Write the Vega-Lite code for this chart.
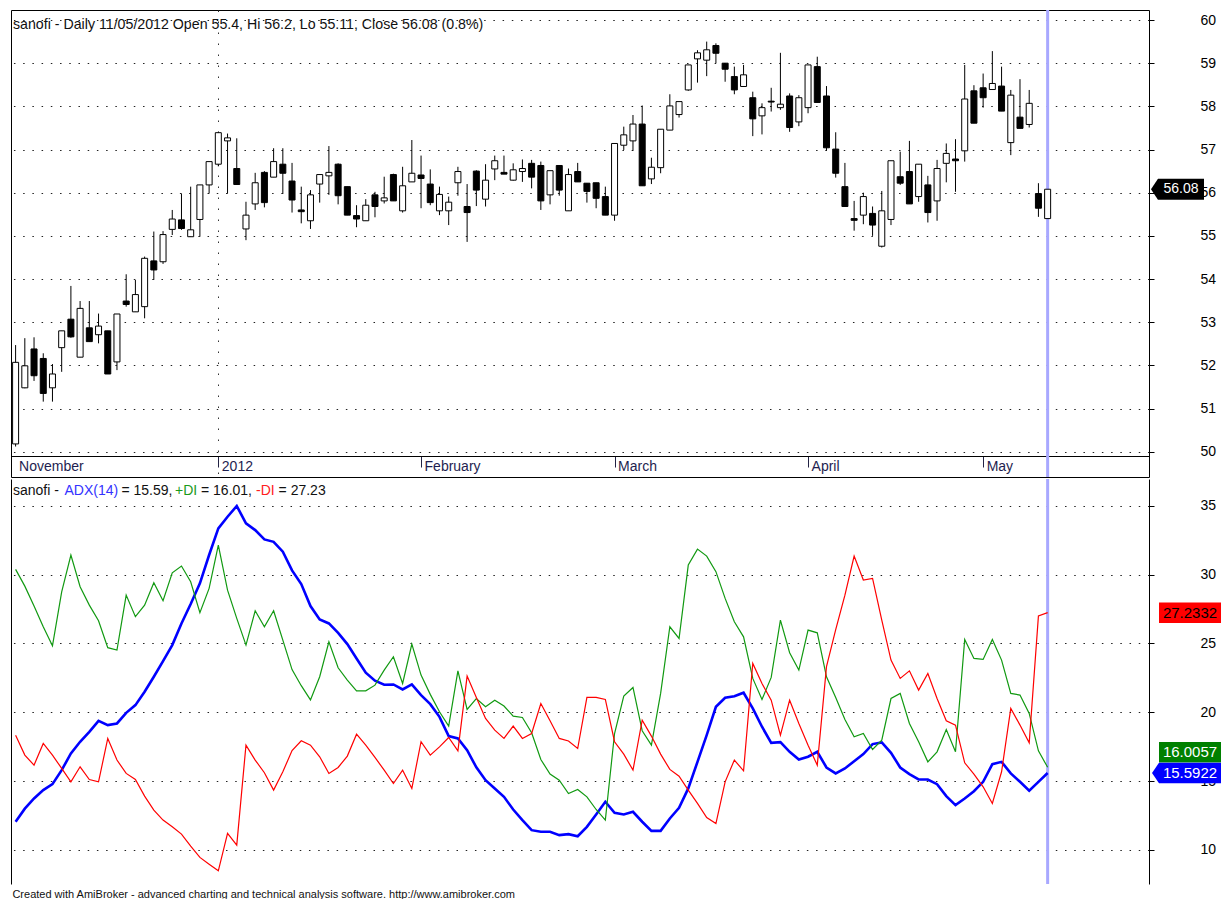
{
  "$schema": "https://vega.github.io/schema/vega-lite/v6.json",
  "background": "white",
  "padding": {"left": 10, "top": 8, "right": 0, "bottom": 0},
  "config": {
    "font": "Liberation Sans",
    "view": {"stroke": "black", "strokeWidth": 1},
    "axis": {"labelFont": "Liberation Sans", "titleFont": "Liberation Sans"}
  },
  "title": {
    "text": "Created with AmiBroker - advanced charting and technical analysis software. http://www.amibroker.com",
    "orient": "bottom", "anchor": "start", "fontSize": 11, "fontWeight": "normal",
    "color": "#111111", "offset": 3, "dx": 2, "font": "Liberation Sans"
  },
  "datasets": {
    "px": [
      {"i":0,"o":50.18,"h":52.47,"l":50.12,"c":52.07,"adx":12.05,"pdi":30.38,"mdi":18.34},
      {"i":1,"o":51.48,"h":52.63,"l":51.47,"c":51.99,"adx":13.0,"pdi":29.16,"mdi":16.89},
      {"i":2,"o":52.38,"h":52.65,"l":51.64,"c":51.76,"adx":13.74,"pdi":27.71,"mdi":16.16},
      {"i":3,"o":52.16,"h":52.28,"l":51.16,"c":51.35,"adx":14.35,"pdi":26.21,"mdi":17.74},
      {"i":4,"o":51.48,"h":52.03,"l":51.16,"c":51.80,"adx":14.78,"pdi":24.83,"mdi":16.89},
      {"i":5,"o":52.41,"h":52.80,"l":51.85,"c":52.80,"adx":15.80,"pdi":28.75,"mdi":15.92},
      {"i":6,"o":53.07,"h":53.84,"l":52.64,"c":52.66,"adx":17.01,"pdi":31.42,"mdi":14.95},
      {"i":7,"o":52.19,"h":53.49,"l":52.19,"c":53.32,"adx":17.86,"pdi":29.12,"mdi":16.04},
      {"i":8,"o":52.87,"h":53.49,"l":52.55,"c":52.55,"adx":18.58,"pdi":27.78,"mdi":15.12},
      {"i":9,"o":52.71,"h":53.20,"l":52.51,"c":52.91,"adx":19.38,"pdi":26.65,"mdi":14.95},
      {"i":10,"o":52.80,"h":52.80,"l":51.80,"c":51.80,"adx":19.07,"pdi":24.69,"mdi":18.10},
      {"i":11,"o":52.08,"h":53.19,"l":51.89,"c":53.19,"adx":19.19,"pdi":24.52,"mdi":16.53},
      {"i":12,"o":53.49,"h":54.11,"l":53.36,"c":53.41,"adx":19.96,"pdi":28.51,"mdi":15.56},
      {"i":13,"o":53.24,"h":53.98,"l":53.24,"c":53.64,"adx":20.52,"pdi":26.94,"mdi":15.12},
      {"i":14,"o":53.36,"h":54.52,"l":53.09,"c":54.48,"adx":21.49,"pdi":27.78,"mdi":13.91},
      {"i":15,"o":54.42,"h":55.10,"l":53.98,"c":54.21,"adx":22.58,"pdi":29.41,"mdi":12.89},
      {"i":16,"o":54.40,"h":55.11,"l":54.35,"c":55.03,"adx":23.72,"pdi":28.10,"mdi":12.17},
      {"i":17,"o":55.15,"h":55.60,"l":55.02,"c":55.39,"adx":24.88,"pdi":30.13,"mdi":11.68},
      {"i":18,"o":55.37,"h":55.98,"l":55.14,"c":55.17,"adx":26.45,"pdi":30.62,"mdi":11.15},
      {"i":19,"o":54.98,"h":56.14,"l":54.98,"c":55.14,"adx":27.86,"pdi":29.48,"mdi":10.28},
      {"i":20,"o":55.38,"h":56.18,"l":54.98,"c":56.18,"adx":29.36,"pdi":27.23,"mdi":9.46},
      {"i":21,"o":56.18,"h":56.72,"l":55.98,"c":56.72,"adx":31.42,"pdi":29.0,"mdi":8.97},
      {"i":22,"o":56.66,"h":57.41,"l":56.61,"c":57.39,"adx":33.35,"pdi":32.14,"mdi":8.49},
      {"i":23,"o":57.20,"h":57.37,"l":55.98,"c":57.27,"adx":34.20,"pdi":28.87,"mdi":11.20},
      {"i":24,"o":56.56,"h":57.26,"l":56.19,"c":56.19,"adx":34.98,"pdi":26.82,"mdi":10.35},
      {"i":25,"o":55.16,"h":55.79,"l":54.90,"c":55.48,"adx":33.72,"pdi":24.88,"mdi":17.61},
      {"i":26,"o":55.74,"h":56.46,"l":55.60,"c":56.23,"adx":33.23,"pdi":27.37,"mdi":16.53},
      {"i":27,"o":56.47,"h":56.50,"l":55.66,"c":55.77,"adx":32.55,"pdi":26.21,"mdi":15.61},
      {"i":28,"o":56.36,"h":57.03,"l":56.36,"c":56.72,"adx":32.38,"pdi":27.37,"mdi":14.35},
      {"i":29,"o":56.66,"h":57.03,"l":55.97,"c":56.45,"adx":31.66,"pdi":25.24,"mdi":15.68},
      {"i":30,"o":56.27,"h":56.69,"l":55.54,"c":55.83,"adx":30.3,"pdi":23.1,"mdi":17.22},
      {"i":31,"o":55.60,"h":56.14,"l":55.29,"c":55.56,"adx":29.31,"pdi":21.93,"mdi":17.93},
      {"i":32,"o":55.35,"h":56.06,"l":55.16,"c":55.95,"adx":27.71,"pdi":20.9,"mdi":17.61},
      {"i":33,"o":56.20,"h":56.42,"l":55.77,"c":56.42,"adx":26.74,"pdi":22.58,"mdi":16.77},
      {"i":34,"o":56.39,"h":57.08,"l":55.95,"c":56.47,"adx":26.45,"pdi":25.12,"mdi":15.56},
      {"i":35,"o":56.66,"h":56.68,"l":55.73,"c":55.93,"adx":25.77,"pdi":23.23,"mdi":15.99},
      {"i":36,"o":56.14,"h":56.14,"l":55.48,"c":55.48,"adx":24.95,"pdi":22.34,"mdi":16.82},
      {"i":37,"o":55.47,"h":55.71,"l":55.20,"c":55.39,"adx":23.91,"pdi":21.56,"mdi":18.41},
      {"i":38,"o":55.35,"h":55.85,"l":55.35,"c":55.71,"adx":22.87,"pdi":21.56,"mdi":17.61},
      {"i":39,"o":55.95,"h":56.02,"l":55.43,"c":55.68,"adx":22.29,"pdi":21.97,"mdi":16.72},
      {"i":40,"o":55.81,"h":56.37,"l":55.75,"c":55.88,"adx":22.0,"pdi":23.06,"mdi":15.80},
      {"i":41,"o":56.42,"h":56.44,"l":55.81,"c":55.81,"adx":22.02,"pdi":24.03,"mdi":14.83},
      {"i":42,"o":55.58,"h":56.60,"l":55.54,"c":56.16,"adx":21.66,"pdi":22.09,"mdi":15.80},
      {"i":43,"o":56.25,"h":57.22,"l":56.25,"c":56.45,"adx":22.02,"pdi":24.95,"mdi":14.47},
      {"i":44,"o":56.41,"h":56.86,"l":55.64,"c":56.33,"adx":21.25,"pdi":22.70,"mdi":17.86},
      {"i":45,"o":56.20,"h":56.54,"l":55.71,"c":55.77,"adx":20.59,"pdi":21.30,"mdi":16.89},
      {"i":46,"o":55.58,"h":56.14,"l":55.48,"c":55.96,"adx":19.67,"pdi":20.04,"mdi":17.49},
      {"i":47,"o":55.58,"h":55.91,"l":55.25,"c":55.78,"adx":18.27,"pdi":19.0,"mdi":18.17},
      {"i":48,"o":56.23,"h":56.60,"l":55.93,"c":56.49,"adx":18.10,"pdi":23.01,"mdi":17.20},
      {"i":49,"o":55.68,"h":56.20,"l":54.86,"c":55.54,"adx":17.25,"pdi":20.21,"mdi":22.63},
      {"i":50,"o":56.50,"h":56.52,"l":55.69,"c":56.06,"adx":16.0,"pdi":21.0,"mdi":21.08},
      {"i":51,"o":55.85,"h":56.66,"l":55.68,"c":56.29,"adx":15.07,"pdi":20.40,"mdi":19.55},
      {"i":52,"o":56.55,"h":56.86,"l":56.29,"c":56.74,"adx":14.47,"pdi":20.88,"mdi":18.70},
      {"i":53,"o":56.47,"h":56.86,"l":56.43,"c":56.43,"adx":13.86,"pdi":20.45,"mdi":18.10},
      {"i":54,"o":56.29,"h":56.68,"l":56.28,"c":56.53,"adx":12.94,"pdi":19.72,"mdi":19.0},
      {"i":55,"o":56.49,"h":56.77,"l":56.25,"c":56.56,"adx":12.17,"pdi":19.62,"mdi":18.10},
      {"i":56,"o":56.68,"h":56.76,"l":56.10,"c":56.36,"adx":11.44,"pdi":18.51,"mdi":18.46},
      {"i":57,"o":56.63,"h":56.72,"l":55.60,"c":55.81,"adx":11.32,"pdi":16.57,"mdi":20.64},
      {"i":58,"o":55.95,"h":56.51,"l":55.73,"c":56.51,"adx":11.32,"pdi":15.51,"mdi":19.38},
      {"i":59,"o":56.63,"h":56.63,"l":55.93,"c":56.06,"adx":11.08,"pdi":15.07,"mdi":18.10},
      {"i":60,"o":55.58,"h":56.56,"l":55.58,"c":56.42,"adx":11.15,"pdi":14.10,"mdi":17.92},
      {"i":61,"o":56.49,"h":56.69,"l":56.25,"c":56.25,"adx":11.0,"pdi":14.39,"mdi":17.37},
      {"i":62,"o":56.22,"h":56.22,"l":55.77,"c":56.03,"adx":11.68,"pdi":13.86,"mdi":21.08},
      {"i":63,"o":56.23,"h":56.23,"l":55.64,"c":55.87,"adx":12.58,"pdi":12.94,"mdi":21.08},
      {"i":64,"o":55.91,"h":56.14,"l":55.48,"c":55.48,"adx":13.50,"pdi":12.17,"mdi":20.93},
      {"i":65,"o":55.48,"h":57.14,"l":55.35,"c":57.14,"adx":12.70,"pdi":18.46,"mdi":17.86},
      {"i":66,"o":57.10,"h":57.53,"l":56.99,"c":57.34,"adx":12.58,"pdi":21.17,"mdi":16.96},
      {"i":67,"o":57.20,"h":57.80,"l":56.97,"c":57.59,"adx":12.77,"pdi":21.80,"mdi":15.80},
      {"i":68,"o":57.59,"h":58.02,"l":56.16,"c":56.16,"adx":12.05,"pdi":18.66,"mdi":19.43},
      {"i":69,"o":56.32,"h":56.81,"l":56.20,"c":56.59,"adx":11.39,"pdi":17.62,"mdi":18.27},
      {"i":70,"o":56.58,"h":57.47,"l":56.45,"c":57.47,"adx":11.39,"pdi":21.37,"mdi":16.96},
      {"i":71,"o":57.45,"h":58.28,"l":57.45,"c":58.01,"adx":12.29,"pdi":26.21,"mdi":15.85},
      {"i":72,"o":57.81,"h":58.11,"l":57.74,"c":58.11,"adx":13.06,"pdi":25.36,"mdi":15.36},
      {"i":73,"o":58.38,"h":58.96,"l":58.36,"c":58.96,"adx":14.47,"pdi":30.69,"mdi":14.35},
      {"i":74,"o":59.10,"h":59.30,"l":58.55,"c":59.24,"adx":16.40,"pdi":31.85,"mdi":13.38},
      {"i":75,"o":59.07,"h":59.50,"l":58.70,"c":59.31,"adx":18.34,"pdi":31.34,"mdi":12.36},
      {"i":76,"o":59.41,"h":59.46,"l":59.00,"c":59.23,"adx":20.40,"pdi":30.21,"mdi":11.92},
      {"i":77,"o":59.00,"h":59.00,"l":58.57,"c":58.86,"adx":21.05,"pdi":28.27,"mdi":14.95},
      {"i":78,"o":58.69,"h":58.92,"l":58.28,"c":58.38,"adx":21.17,"pdi":26.57,"mdi":16.53},
      {"i":79,"o":58.46,"h":58.96,"l":58.46,"c":58.73,"adx":21.42,"pdi":25.48,"mdi":15.75},
      {"i":80,"o":58.20,"h":58.34,"l":57.31,"c":57.71,"adx":20.28,"pdi":22.46,"mdi":23.55},
      {"i":81,"o":57.78,"h":58.07,"l":57.35,"c":57.97,"adx":18.95,"pdi":20.93,"mdi":22.09},
      {"i":82,"o":58.12,"h":58.43,"l":57.88,"c":58.10,"adx":17.78,"pdi":22.53,"mdi":20.88},
      {"i":83,"o":57.97,"h":59.24,"l":57.92,"c":58.05,"adx":17.83,"pdi":26.69,"mdi":18.34},
      {"i":84,"o":58.24,"h":58.30,"l":57.41,"c":57.51,"adx":17.13,"pdi":24.32,"mdi":20.88},
      {"i":85,"o":57.64,"h":58.26,"l":57.54,"c":58.20,"adx":16.57,"pdi":23.06,"mdi":19.19},
      {"i":86,"o":57.97,"h":58.96,"l":57.84,"c":58.96,"adx":16.77,"pdi":25.97,"mdi":17.61},
      {"i":87,"o":58.92,"h":59.15,"l":58.09,"c":58.09,"adx":17.13,"pdi":25.77,"mdi":16.16},
      {"i":88,"o":58.24,"h":58.47,"l":56.97,"c":57.04,"adx":15.99,"pdi":22.58,"mdi":23.31},
      {"i":89,"o":57.01,"h":57.40,"l":56.35,"c":56.45,"adx":15.56,"pdi":21.08,"mdi":26.0},
      {"i":90,"o":56.14,"h":56.69,"l":55.68,"c":55.68,"adx":15.92,"pdi":19.48,"mdi":28.5},
      {"i":91,"o":55.40,"h":55.81,"l":55.12,"c":55.36,"adx":16.45,"pdi":18.22,"mdi":31.34},
      {"i":92,"o":55.48,"h":56.00,"l":55.27,"c":55.91,"adx":16.96,"pdi":18.46,"mdi":29.60},
      {"i":93,"o":55.52,"h":55.68,"l":55.00,"c":55.25,"adx":17.69,"pdi":17.30,"mdi":29.72},
      {"i":94,"o":54.76,"h":56.04,"l":54.73,"c":55.58,"adx":17.81,"pdi":17.98,"mdi":26.69},
      {"i":95,"o":55.38,"h":56.74,"l":55.25,"c":56.74,"adx":17.06,"pdi":21.0,"mdi":23.79},
      {"i":96,"o":56.37,"h":56.95,"l":56.18,"c":56.22,"adx":15.99,"pdi":21.37,"mdi":22.46},
      {"i":97,"o":56.49,"h":57.20,"l":55.74,"c":55.74,"adx":15.51,"pdi":19.19,"mdi":23.01},
      {"i":98,"o":55.91,"h":56.66,"l":55.79,"c":56.66,"adx":15.12,"pdi":17.86,"mdi":21.61},
      {"i":99,"o":56.18,"h":56.39,"l":55.31,"c":55.54,"adx":15.12,"pdi":16.40,"mdi":22.82},
      {"i":100,"o":55.81,"h":56.76,"l":55.35,"c":56.56,"adx":14.78,"pdi":17.13,"mdi":21.0},
      {"i":101,"o":56.68,"h":57.14,"l":56.24,"c":56.91,"adx":13.91,"pdi":18.75,"mdi":19.38},
      {"i":102,"o":56.78,"h":57.24,"l":56.02,"c":56.74,"adx":13.26,"pdi":17.13,"mdi":19.07},
      {"i":103,"o":56.97,"h":58.96,"l":56.72,"c":58.17,"adx":13.74,"pdi":25.29,"mdi":16.33},
      {"i":104,"o":58.36,"h":58.49,"l":57.61,"c":57.61,"adx":14.27,"pdi":23.91,"mdi":15.51},
      {"i":105,"o":58.43,"h":58.76,"l":57.97,"c":58.20,"adx":14.95,"pdi":23.84,"mdi":14.59},
      {"i":106,"o":58.39,"h":59.28,"l":58.39,"c":58.53,"adx":16.23,"pdi":25.29,"mdi":13.38},
      {"i":107,"o":58.47,"h":58.92,"l":57.89,"c":57.89,"adx":16.40,"pdi":23.79,"mdi":15.68},
      {"i":108,"o":57.16,"h":58.38,"l":56.87,"c":58.26,"adx":15.56,"pdi":21.37,"mdi":20.28},
      {"i":109,"o":57.75,"h":58.63,"l":57.49,"c":57.49,"adx":14.95,"pdi":21.25,"mdi":19.07},
      {"i":110,"o":57.58,"h":58.38,"l":57.51,"c":58.07,"adx":14.30,"pdi":19.92,"mdi":17.78},
      {"i":111,"o":55.98,"h":56.22,"l":55.44,"c":55.64,"adx":14.95,"pdi":17.20,"mdi":26.99},
      {"i":112,"o":55.40,"h":56.20,"l":55.11,"c":56.08,"adx":15.5922,"pdi":16.0057,"mdi":27.2332}
    ]
  },
  "data": {"name": "px"},
  "spacing": -3,
  "vconcat": [
    {
      "width": 1138,
      "height": 467,
      "encoding": {
        "x": {
          "field": "i", "type": "quantitative", "title": null,
          "scale": {"domain": [-0.5, 123], "nice": false, "zero": false, "padding": 0},
          "axis": {
            "orient": "bottom", "offset": -21,
            "values": [0, 22, 44, 65, 86, 105],
            "labelExpr": "datum.value == 0 ? 'November' : datum.value == 22 ? '2012' : datum.value == 44 ? 'February' : datum.value == 65 ? 'March' : datum.value == 86 ? 'April' : 'May'",
            "domain": true, "domainColor": "black", "domainWidth": 1,
            "ticks": true, "tickSize": 11, "tickColor": "#222244", "tickWidth": 1,
            "tickOpacity": {"condition": {"test": "datum.value == 0", "value": 0}, "value": 1},
            "labelAlign": "left", "labelBaseline": "top", "labelPadding": -8, "labelOffset": 3,
            "labelFontSize": 14, "labelColor": "#1e1e50", "labelFlush": false, "labelOverlap": false,
            "grid": true, "gridColor": "#333333", "gridDash": [1.5, 9.5],
            "gridOpacity": {"condition": {"test": "datum.value == 22", "value": 1}, "value": 0}
          }
        }
      },
      "layer": [
        {
          "mark": {"type": "rule", "color": "black", "strokeWidth": 1},
          "encoding": {
            "y": {
              "field": "l", "type": "quantitative", "title": null,
              "scale": {"domain": [49.414, 60.232], "nice": false, "zero": false},
              "axis": {
                "orient": "right", "values": [50, 51, 52, 53, 54, 55, 56, 57, 58, 59, 60],
                "domain": false, "tickSize": 5, "tickColor": "black",
                "labelPadding": 46, "labelAlign": "left", "labelFontSize": 14, "labelColor": "black",
                "grid": true, "gridColor": "#222222", "gridDash": [1.5, 7.72], "gridWidth": 1
              }
            },
            "y2": {"field": "h"}
          }
        },
        {
          "transform": [{"filter": "datum.i == 112"}],
          "mark": {"type": "rule", "color": "#a8a8ff", "strokeWidth": 3},
          "encoding": {}
        },
        {
          "mark": {"type": "bar", "width": 6, "stroke": "black", "strokeWidth": 1},
          "encoding": {
            "y": {"field": "o", "type": "quantitative", "title": null},
            "y2": {"field": "c"},
            "fill": {"condition": {"test": "datum.c >= datum.o", "value": "white"}, "value": "black"}
          }
        },
        {
          "transform": [{"filter": "datum.i == 112"}],
          "mark": {"type": "text", "align": "left", "baseline": "alphabetic", "fontSize": 14.2, "color": "#111111"},
          "encoding": {
            "x": {"datum": -0.283, "type": "quantitative"},
            "y": {"datum": 59.79, "type": "quantitative"},
            "text": {"value": "sanofi - Daily 11/05/2012 Open 55.4, Hi 56.2, Lo 55.11, Close 56.08 (0.8%)"}
          }
        },
        {
          "transform": [{"filter": "datum.i == 112"}],
          "mark": {"type": "point", "shape": "M-1,0L-0.736,-0.396L1,-0.396L1,0.396L-0.736,0.396Z", "size": 2809, "filled": true, "color": "black", "opacity": 1, "strokeWidth": 0},
          "encoding": {
            "x": {"datum": 126.09, "type": "quantitative"},
            "y": {"field": "c", "type": "quantitative"}
          }
        },
        {
          "transform": [{"filter": "datum.i == 112"}],
          "mark": {"type": "text", "align": "center", "baseline": "middle", "fontSize": 14, "color": "white"},
          "encoding": {
            "x": {"datum": 126.47, "type": "quantitative"},
            "y": {"field": "c", "type": "quantitative"},
            "text": {"field": "c", "format": ".2f"}
          }
        }
      ]
    },
    {
      "width": 1138,
      "height": 405,
      "view": {"stroke": null},
      "resolve": {"axis": {"y": "independent"}},
      "encoding": {
        "x": {
          "field": "i", "type": "quantitative", "title": null,
          "scale": {"domain": [-0.5, 123], "nice": false, "zero": false, "padding": 0},
          "axis": null
        }
      },
      "layer": [
        {
          "transform": [{"filter": "datum.i == 112"}],
          "mark": {"type": "rule", "color": "#a8a8ff", "strokeWidth": 3},
          "encoding": {}
        },
        {
          "mark": {"type": "line", "color": "#0000ff", "strokeWidth": 2.6},
          "encoding": {
            "y": {
              "field": "adx", "type": "quantitative", "title": null,
              "scale": {"domain": [7.53, 36.94], "nice": false, "zero": false},
              "axis": {
                "orient": "right", "values": [10, 15, 20, 25, 30, 35],
                "domain": true, "domainColor": "black", "tickSize": 5, "tickColor": "black",
                "labelPadding": 46, "labelAlign": "left", "labelFontSize": 14, "labelColor": "black",
                "grid": true, "gridColor": "#222222", "gridDash": [1.5, 7.72], "gridWidth": 1
              }
            }
          }
        },
        {
          "mark": {"type": "line", "color": "#119911", "strokeWidth": 1.2},
          "encoding": {
            "y": {
              "field": "pdi", "type": "quantitative", "title": null,
              "axis": {"orient": "left", "labels": false, "ticks": false, "grid": false, "domain": true, "domainColor": "black", "values": [10]}
            }
          }
        },
        {
          "mark": {"type": "line", "color": "#ff0000", "strokeWidth": 1.2},
          "encoding": {
            "y": {"field": "mdi", "type": "quantitative", "title": null, "axis": null}
          }
        },
        {
          "transform": [{"filter": "datum.i == 112"}],
          "mark": {"type": "text", "align": "left", "baseline": "alphabetic", "fontSize": 14, "color": "#111111"},
          "encoding": {
            "x": {"datum": -0.283, "type": "quantitative"},
            "y": {"datum": 35.78, "type": "quantitative", "axis": null},
            "text": {"value": "sanofi -"}
          }
        },
        {
          "transform": [{"filter": "datum.i == 112"}],
          "mark": {"type": "text", "align": "left", "baseline": "alphabetic", "fontSize": 14, "color": "#3333ff"},
          "encoding": {
            "x": {"datum": 5.306, "type": "quantitative"},
            "y": {"datum": 35.78, "type": "quantitative", "axis": null},
            "text": {"value": "ADX(14)"}
          }
        },
        {
          "transform": [{"filter": "datum.i == 112"}],
          "mark": {"type": "text", "align": "left", "baseline": "alphabetic", "fontSize": 14, "color": "#111111"},
          "encoding": {
            "x": {"datum": 11.49, "type": "quantitative"},
            "y": {"datum": 35.78, "type": "quantitative", "axis": null},
            "text": {"value": "= 15.59,"}
          }
        },
        {
          "transform": [{"filter": "datum.i == 112"}],
          "mark": {"type": "text", "align": "left", "baseline": "alphabetic", "fontSize": 14, "color": "#1a9a1a"},
          "encoding": {
            "x": {"datum": 17.3, "type": "quantitative"},
            "y": {"datum": 35.78, "type": "quantitative", "axis": null},
            "text": {"value": "+DI"}
          }
        },
        {
          "transform": [{"filter": "datum.i == 112"}],
          "mark": {"type": "text", "align": "left", "baseline": "alphabetic", "fontSize": 14, "color": "#111111"},
          "encoding": {
            "x": {"datum": 20.12, "type": "quantitative"},
            "y": {"datum": 35.78, "type": "quantitative", "axis": null},
            "text": {"value": "= 16.01,"}
          }
        },
        {
          "transform": [{"filter": "datum.i == 112"}],
          "mark": {"type": "text", "align": "left", "baseline": "alphabetic", "fontSize": 14, "color": "#ff2020"},
          "encoding": {
            "x": {"datum": 26.09, "type": "quantitative"},
            "y": {"datum": 35.78, "type": "quantitative", "axis": null},
            "text": {"value": "-DI"}
          }
        },
        {
          "transform": [{"filter": "datum.i == 112"}],
          "mark": {"type": "text", "align": "left", "baseline": "alphabetic", "fontSize": 14, "color": "#111111"},
          "encoding": {
            "x": {"datum": 28.54, "type": "quantitative"},
            "y": {"datum": 35.78, "type": "quantitative", "axis": null},
            "text": {"value": "= 27.23"}
          }
        },
        {
          "transform": [{"filter": "datum.i == 112"}],
          "mark": {"type": "point", "shape": "M-1,-0.33L1,-0.33L1,0.33L-1,0.33Z", "size": 3844, "filled": true, "color": "#ff0000", "opacity": 1, "strokeWidth": 0},
          "encoding": {
            "x": {"datum": 127.45, "type": "quantitative"},
            "y": {"field": "mdi", "type": "quantitative", "axis": null}
          }
        },
        {
          "transform": [{"filter": "datum.i == 112"}],
          "mark": {"type": "text", "align": "center", "baseline": "middle", "fontSize": 15, "color": "black"},
          "encoding": {
            "x": {"datum": 127.45, "type": "quantitative"},
            "y": {"field": "mdi", "type": "quantitative", "axis": null},
            "text": {"field": "mdi", "format": ".4f"}
          }
        },
        {
          "transform": [{"filter": "datum.i == 112"}],
          "mark": {"type": "point", "shape": "M-1,-0.33L1,-0.33L1,0.33L-1,0.33Z", "size": 3844, "filled": true, "color": "#008000", "opacity": 1, "strokeWidth": 0, "yOffset": -15},
          "encoding": {
            "x": {"datum": 127.45, "type": "quantitative"},
            "y": {"field": "pdi", "type": "quantitative", "axis": null}
          }
        },
        {
          "transform": [{"filter": "datum.i == 112"}],
          "mark": {"type": "text", "align": "center", "baseline": "middle", "fontSize": 15, "color": "white", "yOffset": -15},
          "encoding": {
            "x": {"datum": 127.45, "type": "quantitative"},
            "y": {"field": "pdi", "type": "quantitative", "axis": null},
            "text": {"field": "pdi", "format": ".4f"}
          }
        },
        {
          "transform": [{"filter": "datum.i == 112"}],
          "mark": {"type": "point", "shape": "M-1,0L-0.797,-0.297L1,-0.297L1,0.297L-0.797,0.297Z", "size": 4761, "filled": true, "color": "#0000ff", "opacity": 1, "strokeWidth": 0},
          "encoding": {
            "x": {"datum": 127.07, "type": "quantitative"},
            "y": {"field": "adx", "type": "quantitative", "axis": null}
          }
        },
        {
          "transform": [{"filter": "datum.i == 112"}],
          "mark": {"type": "text", "align": "center", "baseline": "middle", "fontSize": 15, "color": "white"},
          "encoding": {
            "x": {"datum": 127.45, "type": "quantitative"},
            "y": {"field": "adx", "type": "quantitative", "axis": null},
            "text": {"field": "adx", "format": ".4f"}
          }
        }
      ]
    }
  ]
}
